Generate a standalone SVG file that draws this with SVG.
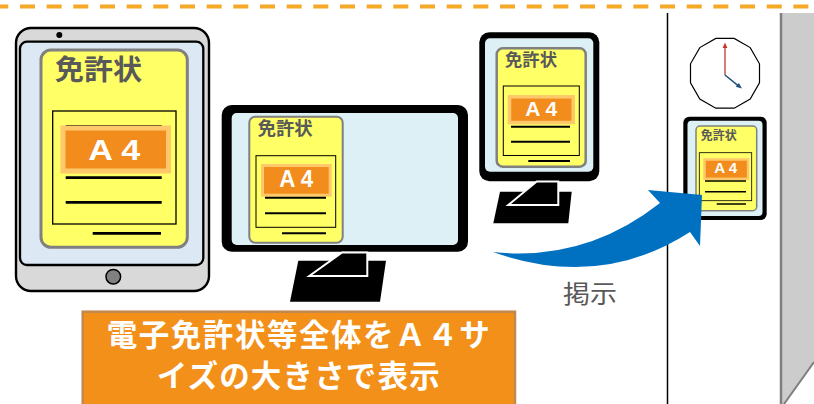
<svg xmlns="http://www.w3.org/2000/svg" width="814" height="404" viewBox="0 0 814 404">
  <style>
    .doc { fill: #FFFF66; stroke: #808080; }
    .frame { fill: #DDF0F5; }
    .inner { fill: none; stroke: #000; }
    .badge { fill: #F28C1C; stroke: #FFC86B; }
    .rule { stroke: #000; fill: none; }
    .title { font-family: "Noto Sans CJK JP", sans-serif; font-weight: bold; fill: #595959; }
    .a4 { font-family: "Liberation Sans", Arial, sans-serif; font-weight: bold; fill: #fff; text-anchor: middle; }
    .stand { fill: #000; }
    .neck { fill: #000; stroke: #fff; stroke-width: 2; stroke-linejoin: miter; }
  </style>

  <!-- top dashed boundary -->
  <line x1="-6.7" y1="6.5" x2="814" y2="6.5" stroke="#F6A829" stroke-width="4" stroke-dasharray="15 11.67"/>

  <!-- wall boundary line and side wall -->
  <g id="wall">
    <line x1="667.5" y1="13" x2="667.5" y2="404" stroke="#000" stroke-width="1.5"/>
    <polygon points="781,13 814,13 814,363 785,404 781,404" fill="#CCCCCC"/>
    <polyline points="781,13 781,404" fill="none" stroke="#7F7F7F" stroke-width="2.5"/>
    <line x1="784" y1="404" x2="814" y2="362" stroke="#7F7F7F" stroke-width="2"/>
  </g>

  <!-- wall clock -->
  <g id="clock">
    <polygon fill="#fff" stroke="#000" stroke-width="1.2"
      points="759.5,63.8 759.5,82.8 750.2,99 734.2,108.2 715.8,108.2 699.8,99 690.5,82.8 690.5,63.8 699.8,47.6 715.8,38.4 734.2,38.4 750.2,47.6"/>
    <line x1="725" y1="75" x2="725" y2="46" stroke="#C0392B" stroke-width="1.3"/>
    <polygon points="725,42.5 722.6,48 727.4,48" fill="#C0392B"/>
    <line x1="725" y1="75" x2="739" y2="86.3" stroke="#1F4E79" stroke-width="1.5"/>
    <polygon points="742,88.5 735.8,86.8 738.9,83" fill="#1F4E79"/>
  </g>

  <!-- tablet -->
  <g id="tablet">
    <rect x="16" y="28" width="193" height="263" rx="15" fill="#D9D9D9" stroke="#000" stroke-width="2.4"/>
    <circle cx="59.3" cy="35" r="3" fill="#000"/>
    <rect x="20" y="41.7" width="183.3" height="223.3" rx="7" fill="#DCE9F4" stroke="#000" stroke-width="2.3"/>
    <circle cx="113.3" cy="276.7" r="7.3" fill="#808080" stroke="#000" stroke-width="1.5"/>
    <rect class="doc" x="41" y="50" width="146.3" height="197.3" rx="10" stroke-width="3"/>
    <text class="title" x="55" y="80" font-size="28" textLength="87" lengthAdjust="spacingAndGlyphs">免許状</text>
    <rect class="inner" x="52.7" y="111" width="123.3" height="113" stroke-width="1.3"/>
    <line class="rule" x1="65.7" y1="126" x2="161.7" y2="126" stroke-width="2"/>
    <rect class="badge" x="63" y="128" width="105.5" height="43" stroke-width="5"/>
    <text class="a4" x="114.2" y="160" font-size="29" textLength="52" lengthAdjust="spacingAndGlyphs">A 4</text>
    <line class="rule" x1="65.7" y1="177.7" x2="161.7" y2="177.7" stroke-width="2.7"/>
    <line class="rule" x1="65.7" y1="202.3" x2="161.7" y2="202.3" stroke-width="2.7"/>
    <line class="rule" x1="92.7" y1="233.3" x2="161" y2="233.3" stroke-width="2.7"/>
  </g>

  <!-- large desktop monitor -->
  <g id="monitor-large">
    <polygon class="stand" points="298.3,260.7 386,260.7 380,301.7 290,301.7"/>
    <rect x="221.7" y="105" width="246.3" height="146.7" rx="10" fill="#000"/>
    <polygon class="neck" points="342,252.5 367.3,252.5 367.3,276 309.3,276"/>
    <rect class="frame" x="231.7" y="113" width="226.3" height="132" rx="5"/>
    <rect class="doc" x="249.3" y="116.7" width="93.4" height="126" rx="6" stroke-width="2"/>
    <text class="title" x="257.7" y="135" font-size="18" textLength="55" lengthAdjust="spacingAndGlyphs">免許状</text>
    <rect class="inner" x="256" y="155.7" width="79.7" height="71.6" stroke-width="1"/>
    <rect class="badge" x="262.5" y="165.5" width="67.7" height="29.7" stroke-width="3"/>
    <text class="a4" x="296.3" y="186.7" font-size="24" textLength="34" lengthAdjust="spacingAndGlyphs">A 4</text>
    <line class="rule" x1="265" y1="197.7" x2="326" y2="197.7" stroke-width="2"/>
    <line class="rule" x1="265" y1="213.3" x2="326" y2="213.3" stroke-width="2"/>
    <line class="rule" x1="282" y1="233.3" x2="326" y2="233.3" stroke-width="2"/>
  </g>

  <!-- small portrait monitor -->
  <g id="monitor-small">
    <polygon class="stand" points="500,191.7 571.7,191.7 568.3,223.3 493.3,223.3"/>
    <rect x="479.3" y="32.3" width="120" height="149" rx="10" fill="#000"/>
    <polygon class="neck" points="536.7,181.5 558.3,181.5 558.3,205 508.3,205"/>
    <rect class="frame" x="485" y="38.3" width="108.3" height="133.4" rx="5"/>
    <rect class="doc" x="496.7" y="48.3" width="89" height="118.4" rx="6" stroke-width="2.5"/>
    <text class="title" x="505" y="66" font-size="17" textLength="52" lengthAdjust="spacingAndGlyphs">免許状</text>
    <rect class="inner" x="503.3" y="86" width="76" height="69.5" stroke-width="1"/>
    <rect class="badge" x="509.5" y="96.8" width="63.7" height="25.7" stroke-width="3.5"/>
    <text class="a4" x="541.2" y="115.7" font-size="21" textLength="32" lengthAdjust="spacingAndGlyphs">A 4</text>
    <line class="rule" x1="511" y1="126.7" x2="570" y2="126.7" stroke-width="2"/>
    <line class="rule" x1="511" y1="141.7" x2="570" y2="141.7" stroke-width="2"/>
    <line class="rule" x1="528.3" y1="161" x2="570" y2="161" stroke-width="2"/>
  </g>

  <!-- display mounted on the wall -->
  <g id="wall-display">
    <rect x="683.3" y="116.7" width="83.4" height="103.3" rx="6" fill="#000"/>
    <rect class="frame" x="687.5" y="120.7" width="75" height="95.3" rx="4"/>
    <rect class="doc" x="696" y="126" width="60.7" height="84.7" rx="4" stroke-width="1.5"/>
    <text class="title" x="700.7" y="139.5" font-size="12" textLength="36" lengthAdjust="spacingAndGlyphs">免許状</text>
    <rect class="inner" x="699.3" y="152.7" width="52.4" height="48" stroke-width="0.8"/>
    <rect class="badge" x="704.5" y="159.5" width="43.6" height="19.3" stroke-width="2.5"/>
    <text class="a4" x="725.8" y="173.3" font-size="15" textLength="23" lengthAdjust="spacingAndGlyphs">A 4</text>
    <line class="rule" x1="705" y1="181" x2="746" y2="181" stroke-width="1.5"/>
    <line class="rule" x1="705" y1="191.7" x2="746" y2="191.7" stroke-width="1.5"/>
    <line class="rule" x1="716.7" y1="204" x2="746" y2="204" stroke-width="1.5"/>
  </g>

  <!-- connectors -->
  <g id="connectors">
    <path id="post-arrow" fill="#0070C0"
      d="M493,252 Q585,262 660,203 L648,190 L702,195 L700,246 L690,232 Q600,290 493,252 Z"/>
  </g>

  <g id="label-posting">
    <text x="563" y="302.5" font-family="Noto Sans CJK JP, sans-serif" font-size="25" fill="#595959" textLength="54" lengthAdjust="spacingAndGlyphs">掲示</text>
  </g>

  <!-- caption box -->
  <g id="caption">
    <rect x="82.7" y="311.7" width="432.3" height="100" fill="#F39019" stroke="#C1884F" stroke-width="2.5"/>
    <text x="106.7" y="346" font-family="Noto Sans CJK JP, sans-serif" font-weight="bold" font-size="30.5" fill="#fff" textLength="383" lengthAdjust="spacing">電子免許状等全体をＡ４サ</text>
    <text x="156.7" y="387" font-family="Noto Sans CJK JP, sans-serif" font-weight="bold" font-size="30.5" fill="#fff" textLength="283" lengthAdjust="spacing">イズの大きさで表示</text>
  </g>
</svg>
